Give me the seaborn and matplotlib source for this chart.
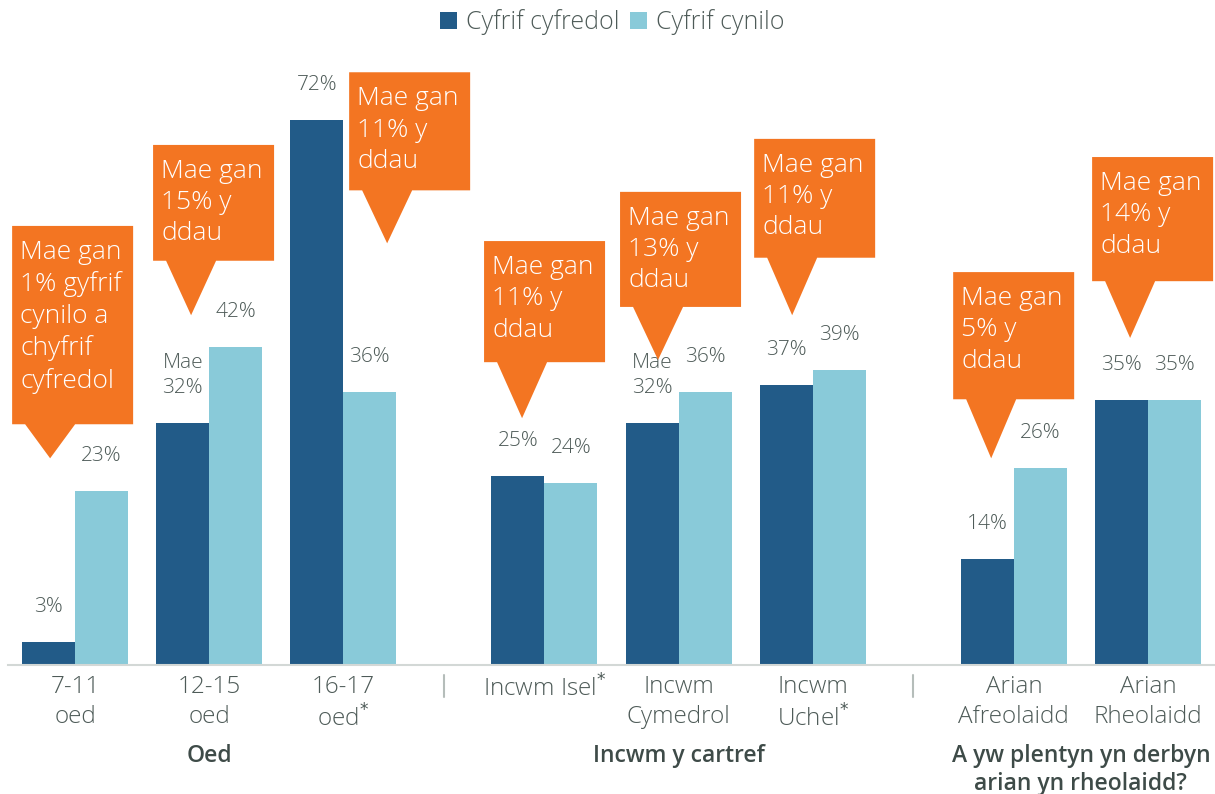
import numpy as np
import pandas as pd
import matplotlib.pyplot as plt
import seaborn as sns
from matplotlib.patches import Polygon

# data
categories = ['7-11\noed', '12-15\noed', '16-17\noed$^{*}$',
              'Incwm Isel$^{*}$', 'Incwm\nCymedrol', 'Incwm\nUchel$^{*}$',
              'Arian\nAfreolaidd', 'Arian\nRheolaidd']
positions = [0, 1, 2, 3.5, 4.5, 5.5, 7, 8]
cyfredol = [3, 32, 72, 25, 32, 37, 14, 35]
cynilo = [23, 42, 36, 24, 36, 39, 26, 35]
series = ['Cyfrif cyfredol', 'Cyfrif cynilo']

groups = ['Oed', 'Incwm y cartref', 'A yw plentyn yn derbyn\narian yn rheolaidd?']
group_centers = [1, 4.5, 7.5]
dividers = [2.75, 6.25]

# callouts: text, x position of tip, tip height, box bottom, box top (in % units)
callout_text = ['Mae gan\n1% gyfrif\ncynilo a\nchyfrif\ncyfredol',
                'Mae gan\n15% y\nddau', 'Mae gan\n11% y\nddau',
                'Mae gan\n11% y\nddau', 'Mae gan\n13% y\nddau',
                'Mae gan\n11% y\nddau', 'Mae gan\n5% y\nddau',
                'Mae gan\n14% y\nddau']
callout_tip_x = [-0.186, 0.865, 2.327, 3.333, 4.347, 5.347, 6.831, 7.867]
callout_tip_y = [27.3, 46.2, 55.7, 32.6, 40.3, 46.2, 27.3, 43.2]
callout_bottom = [31.8, 53.4, 62.7, 40.0, 47.3, 53.8, 35.1, 50.7]
callout_top = [58.0, 68.7, 78.3, 56.0, 62.5, 69.5, 51.9, 67.1]

dark = '#225B88'
light = '#89CAD9'
orange = '#F37522'
grey_txt = '#4E5B58'

sns.set_style('white')
plt.rcParams['font.family'] = ['Open Sans', 'DejaVu Sans']

df = pd.DataFrame({'pos': positions * 2,
                   'value': cyfredol + cynilo,
                   'series': [series[0]] * len(positions) + [series[1]] * len(positions)})

fig = plt.figure(figsize=(12.15, 7.94), dpi=100)
ax = fig.add_axes([0.0066, 0.1625, 0.9934, 0.7627])

sns.barplot(data=df, x='pos', y='value', hue='series', native_scale=True,
            palette=[dark, light], width=0.79, saturation=1, errorbar=None,
            linewidth=0, edgecolor='none', ax=ax)

ax.set_xlim(-0.5, 8.5)
ax.set_ylim(0, 80)

# pixel -> data helpers
ux = 9 / (1215 * 0.9934)
uy = 80 / (794 * 0.7627)

# value labels
for ci, cont in enumerate(ax.containers):
    for p in cont:
        xc = p.get_x() + p.get_width() / 2
        h = p.get_height()
        ax.text(xc, h + 35 * uy, f'{h:.0f}%', ha='center', va='center',
                fontsize=15, color=grey_txt, fontweight='light')
        if ci == 0 and h == 32:
            ax.text(xc, h + 60 * uy, 'Mae', ha='center', va='center',
                    fontsize=15, color=grey_txt, fontweight='light')

# callouts
for txt, tx, ty, yb, yt in zip(callout_text, callout_tip_x, callout_tip_y,
                                callout_bottom, callout_top):
    left = tx - 38 * ux
    right = left + 121 * ux
    verts = [(left, yb), (tx - 25 * ux, yb), (tx, ty), (tx + 25 * ux, yb),
             (right, yb), (right, yt), (left, yt)]
    ax.add_patch(Polygon(verts, closed=True, facecolor=orange, edgecolor='none',
                         zorder=5, clip_on=False))
    ax.text(left + 8 * ux, yt - 14 * uy, txt, ha='left', va='top', fontsize=19,
            color='white', linespacing=1.33, zorder=6, fontweight='light')

# axes styling
for s in ['top', 'right', 'left']:
    ax.spines[s].set_visible(False)
ax.spines['bottom'].set_color('#D3D8D6')
ax.spines['bottom'].set_linewidth(1.5)
ax.set_yticks([])
ax.set_ylabel('')
ax.set_xlabel('')
ax.set_xticks(positions)
ax.set_xticklabels(categories)
ax.tick_params(axis='x', length=0, pad=7.5, labelsize=17.5, labelcolor=grey_txt)
for t in ax.get_xticklabels():
    t.set_linespacing(1.3)
    t.set_fontweight('light')

# dividers between groups
for d in dividers:
    ax.plot([d, d], [-10 / 605.6, -32 / 605.6], color='#B5BDBA', lw=1.5,
            transform=ax.get_xaxis_transform(), clip_on=False)

# group titles
for g, gc in zip(groups, group_centers):
    ax.text(gc, -79 / 605.6, g, ha='center', va='top', fontsize=16.5,
            fontweight='semibold', color='#3E4B48', linespacing=1.2,
            transform=ax.get_xaxis_transform())

# legend
handles, labels = ax.get_legend_handles_labels()
ax.legend_.remove()
leg = fig.legend(handles, labels, loc='center', bbox_to_anchor=(0.504, 0.972),
                 ncol=2, frameon=False, fontsize=18, handlelength=0.68,
                 handleheight=0.68, handletextpad=0.35, columnspacing=0.45)
for t in leg.get_texts():
    t.set_color(grey_txt)
    t.set_fontweight('light')

plt.savefig('out.png', dpi=100)
